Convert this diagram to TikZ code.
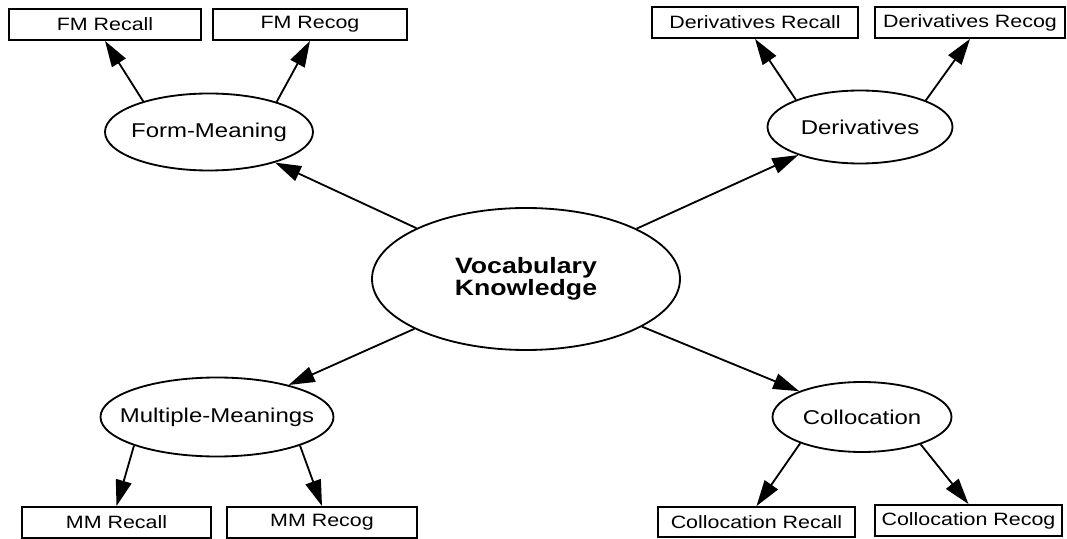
\documentclass[tikz,border=0pt]{standalone}
\usepackage{fontspec}
\setmainfont{Liberation Sans}[FakeStretch=1.2]
\usetikzlibrary{arrows.meta,shapes.geometric}

\begin{document}
\begin{tikzpicture}[
vocab/.style={ellipse,draw,line width=1.3pt,inner sep=0pt,
minimum width=7.7cm,minimum height=3.55cm,align=center,
font=\bfseries\fontsize{15.8}{15.6}\selectfont},
topic/.style={ellipse,draw,line width=1.3pt,inner sep=0pt,
font=\fontsize{14.2}{17}\selectfont},
leaf/.style={rectangle,draw,line width=1.3pt,inner sep=0pt,
minimum height=0.775cm,font=\fontsize{12.7}{15}\selectfont},
link/.style={-{Triangle[length=6.5mm,width=4mm]},line width=1.3pt}]
\useasboundingbox (0,0) rectangle (26.675,13.45);

\node [vocab] (vk) at (13.15,6.475) {Vocabulary\\Knowledge};

\node [topic,minimum width=5.2cm,minimum height=1.925cm] (fm) at (5.225,10.15) {\makebox[0pt]{Form-Meaning}};
\node [topic,minimum width=4.625cm,minimum height=1.825cm] (dv) at (21.5,10.275) {\makebox[0pt]{Derivatives}};
\node [topic,minimum width=4.475cm,minimum height=1.75cm] (co) at (21.55,3.025) {\makebox[0pt]{Collocation}};
\node [topic,minimum width=5.825cm,minimum height=1.975cm] (mm) at (5.425,3.025) {\makebox[0pt]{Multiple-Meanings}};

\node [leaf,minimum width=4.8cm] (fmrc) at (2.625,12.8375) {FM Recall};
\node [leaf,minimum width=4.85cm] (fmrg) at (7.75,12.8375) {FM Recog};
\node [leaf,minimum width=5.15cm] (dvrc) at (18.875,12.8875) {Derivatives Recall};
\node [leaf,minimum width=4.75cm] (dvrg) at (24.25,12.8875) {Derivatives Recog};
\node [leaf,minimum width=4.925cm,minimum height=0.75cm] (corc) at (18.9125,0.4) {Collocation Recall};
\node [leaf,minimum width=4.675cm] (corg) at (24.2125,0.4375) {Collocation Recog};
\node [leaf,minimum width=4.725cm] (mmrc) at (2.9125,0.3875) {MM Recall};
\node [leaf,minimum width=4.75cm] (mmrg) at (8.05,0.3875) {MM Recog};

\draw [link] (vk) -- (fm);
\draw [link] (vk) -- (dv);
\draw [link] (vk) -- (co);
\draw [link] (vk) -- (mm);

\draw [link] (fm.155) -- (fmrc.south);
\draw [link] (fm.24) -- (fmrg.south);
\draw [link] (dv.157) -- (dvrc.south);
\draw [link] (dv.22) -- (dvrg.south);
\draw [link] (co.203) -- (corc.north);
\draw [link] (co.335) -- (corg.north);
\draw [link] (mm.199) -- (mmrc.north);
\draw [link] (mm.341) -- (mmrg.north);
\end{tikzpicture}
\end{document}
